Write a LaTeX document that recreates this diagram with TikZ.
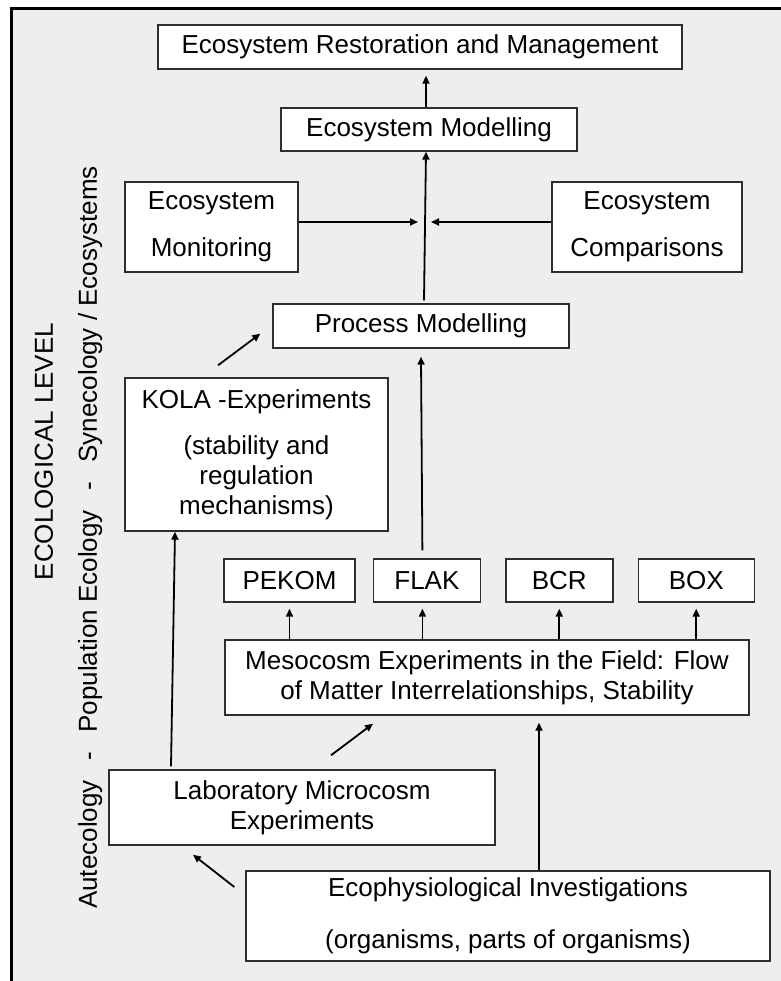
\documentclass[tikz,border=0pt]{standalone}
\usepackage{fontspec}
\setmainfont{Liberation Sans}
\usetikzlibrary{arrows.meta, positioning, calc}
\definecolor{ecobg}{HTML}{EEEEEE}
\definecolor{ecoline}{HTML}{2E2E2E}

\begin{document}
\begin{tikzpicture}[
    x=0.5pt, y=-0.5pt,
    font=\fontsize{13pt}{15pt}\selectfont,
    box/.style={rectangle, draw=ecoline, fill=white, line width=0.7pt, align=center, inner sep=0pt},
    arrow/.style={-{Triangle[length=4pt, width=3.5pt]}, line width=0.9pt, black},
    level/.style={rotate=90, anchor=base}
]

\useasboundingbox (0,0) rectangle (781,981);
\fill[ecobg] (11,8) rectangle (781,981);
\draw[line width=1.5pt] (11,981) -- (11,8) -- (781,8);

\node[box, minimum width=262pt, minimum height=22pt] (restore) at (420,47) {Ecosystem Restoration and Management};
\node[box, minimum width=148pt, minimum height=21.5pt] (ecomod) at (429,129.5) {Ecosystem Modelling};
\node[box, minimum width=86.5pt, minimum height=45pt] (monitor) at (211.5,227) {Ecosystem\\[8.5pt]Monitoring};
\node[box, minimum width=95pt, minimum height=45pt] (compare) at (647,227) {Ecosystem\\[8.5pt]Comparisons};
\node[box, minimum width=148pt, minimum height=22pt] (process) at (421,326) {Process Modelling};
\node[box, minimum width=131.5pt, minimum height=76.5pt] (kola) at (256.5,454.5) {KOLA -Experiments\\[8pt](stability and\\regulation\\mechanisms)};
\node[box, minimum width=65.5pt, minimum height=21.5pt] (pekom) at (289.5,580.5) {PEKOM};
\node[box, minimum width=53.5pt, minimum height=21.5pt, right=8.5pt of pekom] (flak) {FLAK};
\node[box, minimum width=53.5pt, minimum height=21.5pt, right=12pt of flak] (bcr) {BCR};
\node[box, minimum width=58pt, minimum height=21.5pt, right=12pt of bcr] (boxexp) {BOX};
\node[box, minimum width=262pt, minimum height=37.5pt] (meso) at (487,677.5) {Mesocosm Experiments in the Field: Flow\\of Matter Interrelationships, Stability};
\node[box, minimum width=193pt, minimum height=37.5pt] (lab) at (302,807.5) {Laboratory Microcosm\\Experiments};
\node[box, minimum width=262pt, minimum height=45pt] (ecophys) at (508,916) {Ecophysiological Investigations\\[11pt](organisms, parts of organisms)};

\node[level] (level) at (53,451.5) {ECOLOGICAL LEVEL};
\node[level] (scale) at (97,537.5) {Autecology\hspace{0.75em}-\hspace{0.75em}Population Ecology\hspace{0.75em}-\hspace{0.75em}Synecology / Ecosystems};

\coordinate (hubL) at (418,222);
\coordinate (hubR) at (431,222);

\draw[arrow] ([shift={(-3,0)}]ecomod.north) -- ([shift={(6,6)}]restore.south);
\draw[arrow] ([shift={(3,-3)}]process.north) -- ([shift={(-3,0)}]ecomod.south);
\draw[arrow] (monitor.east |- hubL) -- (hubL);
\draw[arrow] (compare.west |- hubR) -- (hubR);
\draw[arrow] ([shift={(-38.5,-12)}]kola.north) -- ([shift={(-12,-15)}]process.south west);
\draw[arrow] ([shift={(-4.5,-8)}]flak.north) -- ([shift={(0,8)}]process.south);
\draw[arrow] (meso.north -| pekom) -- ([yshift=-3pt]pekom.south);
\draw[arrow] ($(meso.north -| flak)+(-4.5,0)$) -- ([shift={(-4.5,6)}]flak.south);
\draw[arrow] (meso.north -| bcr) -- ([yshift=-3pt]bcr.south);
\draw[arrow] (meso.north -| boxexp) -- ([yshift=-3pt]boxexp.south);
\draw[arrow] ([shift={(-131,-3)}]lab.north) -- ([shift={(-81.5,0)}]kola.south);
\draw[arrow] ([shift={(29,-14)}]lab.north) -- ([shift={(-114,8)}]meso.south);
\draw[arrow] ([shift={(31,0)}]ecophys.north) -- ([shift={(52,7)}]meso.south);
\draw[arrow] ([shift={(-11,-29)}]ecophys.west) -- ([shift={(-109,9)}]lab.south);

\end{tikzpicture}
\end{document}
